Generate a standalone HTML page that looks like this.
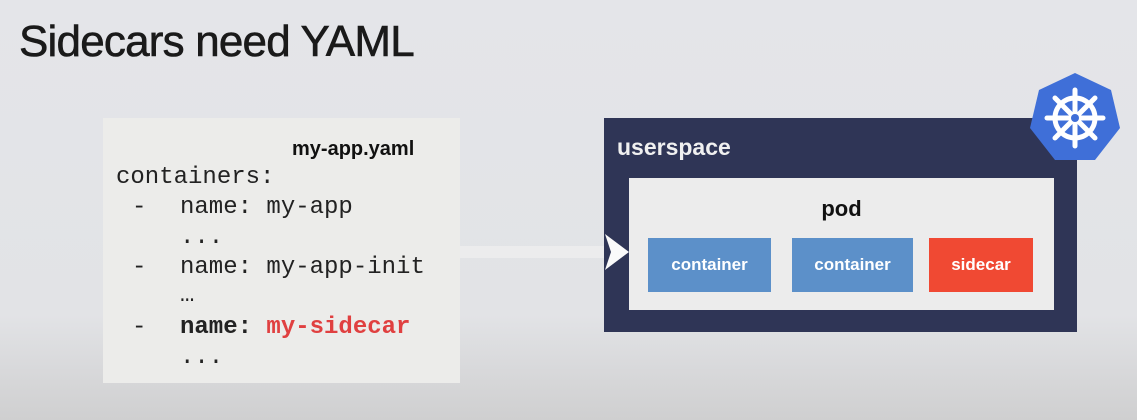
<!DOCTYPE html>
<html><head><style>
body{margin:0;width:1137px;height:420px;overflow:hidden;background:linear-gradient(#e4e5e9 0%,#e2e3e6 75%,#cfcfd0 100%);font-family:"Liberation Sans",sans-serif;position:relative}
.a{position:absolute}
.m{position:absolute;font-family:"Liberation Mono",monospace;font-size:24px;color:#222;white-space:pre;line-height:30px}
.c{position:absolute;top:238px;height:54px;color:#fff;font-weight:bold;font-size:17px;display:flex;align-items:center;justify-content:center}
</style></head><body>
<div class="a" style="left:19px;top:17px;font-size:44px;color:#1a1a1a;letter-spacing:-0.8px;-webkit-text-stroke:0.6px #1a1a1a">Sidecars need YAML</div>
<div class="a" style="left:103px;top:118px;width:357px;height:265px;background:#ececea"></div>
<div class="a" style="left:460px;top:246px;width:150px;height:12px;background:#ececed"></div>
<div class="a" style="left:292px;top:138px;font-size:20px;font-weight:bold;color:#111">my-app.yaml</div>
<div class="m" style="left:116px;top:163px">containers:</div>
<div class="m" style="left:132px;top:193px">-</div><div class="m" style="left:180px;top:193px">name: my-app</div>
<div class="m" style="left:180px;top:223px">...</div>
<div class="m" style="left:132px;top:253px">-</div><div class="m" style="left:180px;top:253px">name: my-app-init</div>
<div class="m" style="left:180px;top:281px">…</div>
<div class="m" style="left:132px;top:313px">-</div><div class="m" style="left:180px;top:313px"><b>name:</b> <b style="color:#e04040">my-sidecar</b></div>
<div class="m" style="left:180px;top:343px">...</div>
<div class="a" style="left:604px;top:118px;width:473px;height:214px;background:#2f3556"></div>
<svg class="a" style="left:603px;top:232px" width="28" height="40"><polygon points="2,2 26,20 2,38 8,20" fill="#fafafa"/></svg>
<div class="a" style="left:617px;top:134px;font-size:23px;font-weight:bold;color:#f0f0f0">userspace</div>
<div class="a" style="left:629px;top:178px;width:425px;height:132px;background:#ececec"></div>
<div class="a" style="left:629px;top:196px;width:425px;text-align:center;font-size:22px;font-weight:bold;color:#111">pod</div>
<div class="c" style="left:648px;width:123px;background:#5c90c9">container</div>
<div class="c" style="left:792px;width:121px;background:#5c90c9">container</div>
<div class="c" style="left:929px;width:104px;background:#f04933">sidecar</div>
<svg class="a" style="left:1027px;top:70px" width="96" height="96" viewBox="0 0 96 96">
<polygon points="48,3 84,20 93,58 68,90 28,90 3,58 12,20" fill="#3f6fd8"/>
<g stroke="#fff" stroke-width="5" fill="none" stroke-linecap="round">
<circle cx="48" cy="48" r="20"/>
<line x1="48" y1="20" x2="48" y2="76"/><line x1="20" y1="48" x2="76" y2="48"/>
<line x1="28" y1="28" x2="68" y2="68"/><line x1="68" y1="28" x2="28" y2="68"/>
</g><circle cx="48" cy="48" r="4" fill="#3f6fd8"/></svg>
</body></html>
